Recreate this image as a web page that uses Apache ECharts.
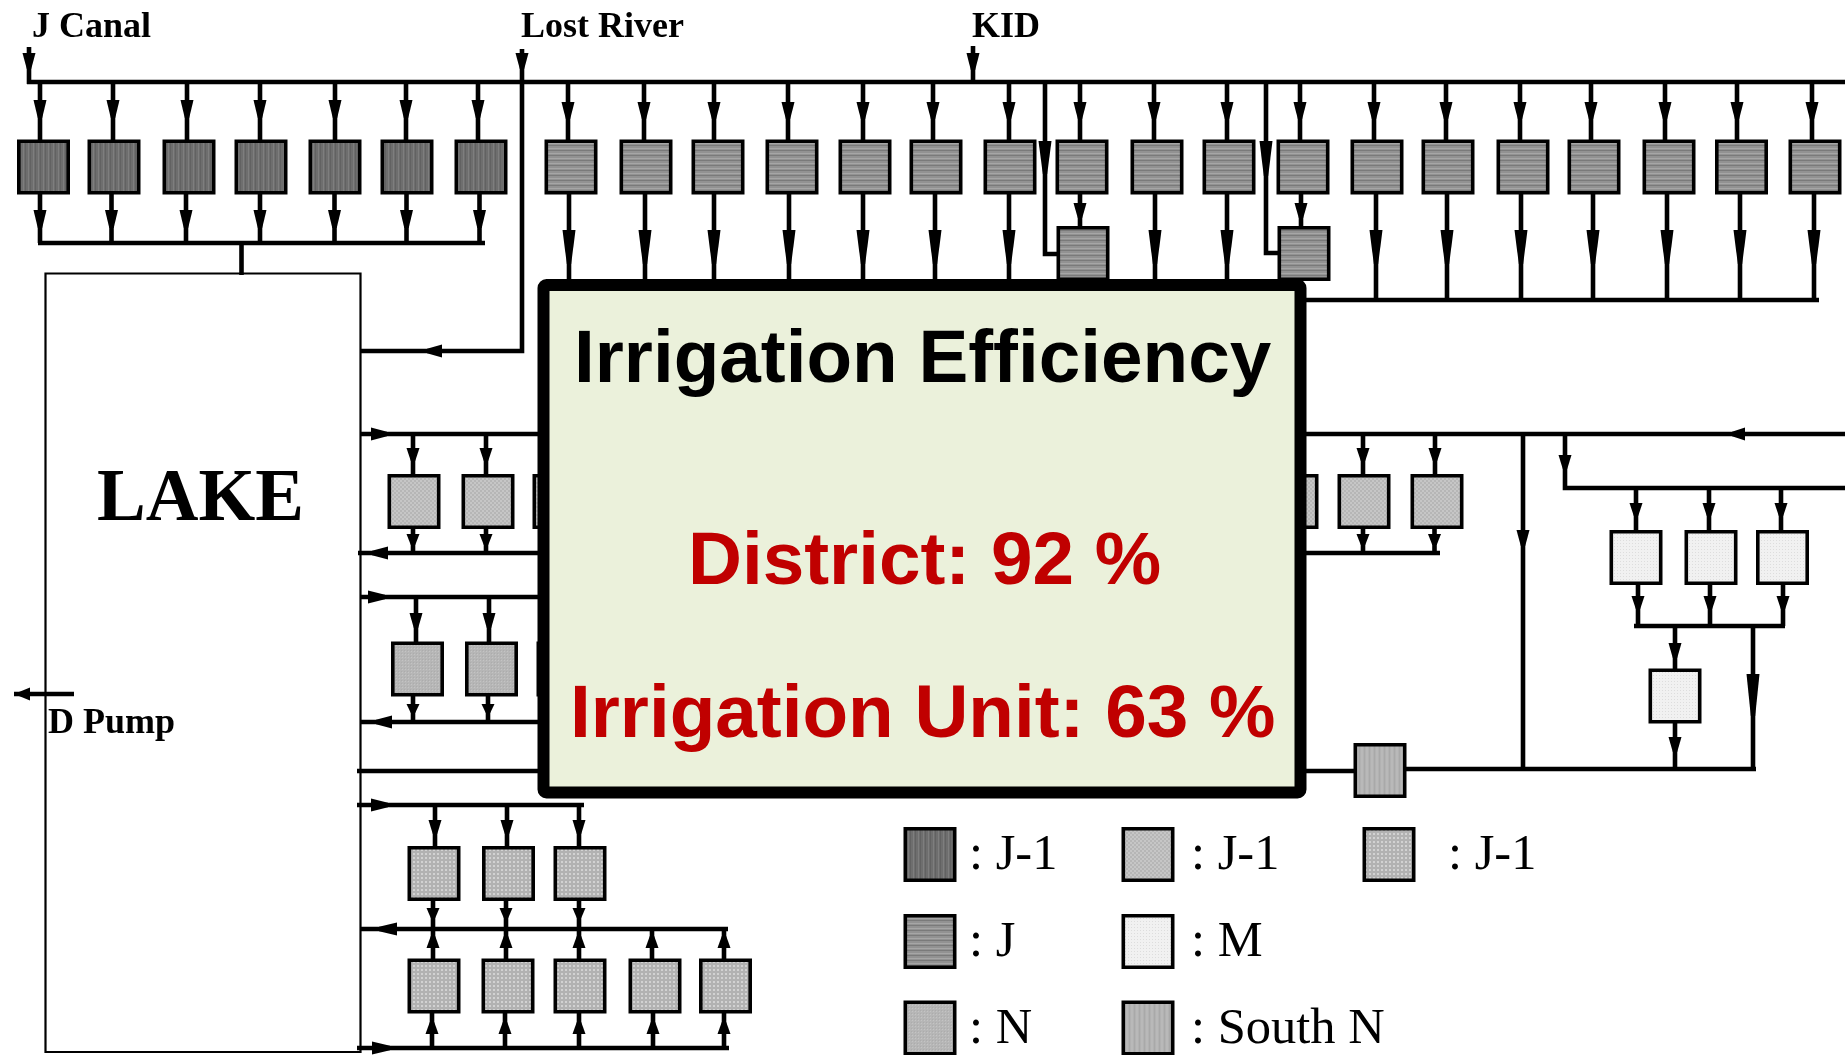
<!DOCTYPE html>
<html>
<head>
<meta charset="utf-8">
<title>Irrigation Efficiency</title>
<script src="https://cdn.jsdelivr.net/npm/echarts@6/dist/echarts.min.js"></script>
<style>
html, body { margin: 0; background: #fff; }
#chart { width: 1845px; height: 1055px; }
</style>
</head>
<body>
<div id="chart"></div>
<script>
// everything below is in reference pixels
const siteNames = ['J Canal', 'Lost River', 'KID', 'D Pump', 'LAKE'];
const panelTitle = 'Irrigation Efficiency';
const panelDistrict = 'District: 92 %';
const panelUnit = 'Irrigation Unit: 63 %';
const legendNames = [': J-1', ': J-1', ': J-1', ': J', ': M', ': N', ': South N'];

// box centres
const jOneBoxes = [43.5, 114, 189, 261, 335, 407, 481].map(x => [x, 167]);
const jBoxes = [571, 646, 718, 792, 865, 936, 1010, 1082, 1157, 1229, 1303, 1377, 1448, 1523, 1594, 1669, 1741.5, 1815].map(x => [x, 167])
    .concat([[1083, 253.5], [1304, 253.5]]);
const upperLakeBoxes = [414, 488, 559, 1292, 1364, 1437].map(x => [x, 501.5]);
const midLakeBoxes = [417.5, 491.5, 563].map(x => [x, 669]);
const lowerLakeBoxes = [[434, 873.5], [508.5, 873.5], [580, 873.5], [434, 986], [508, 986], [580, 986], [655, 986], [725.5, 986]];
const mBoxes = [[1636, 557.5], [1711, 557.5], [1782.5, 557.5], [1675, 696]];
const southBoxes = [[1380, 770.5]];

// legend swatches, same order as legendNames
const legendBoxes = [[930, 854.5], [1148, 854.5], [1389, 854.5], [930, 941.5], [1148, 941.5], [930, 1028], [1148, 1028]];

const mainPipes = [
    [[27, 82], [1845, 82]],
    [[29, 47], [29, 84]],
    [[522, 49], [522, 351], [361, 351]],
    [[973, 46], [973, 84]],
    [[38, 243], [485, 243]],
    [[241.5, 243], [241.5, 275]],
    [[1045, 82], [1045, 254], [1061, 254]],
    [[1266, 82], [1266, 253], [1282, 253]],
    [[1300, 300], [1819, 300]],
    [[361, 434], [1845, 434]],
    [[358, 553], [1440, 553]],
    [[361, 597], [538, 597]],
    [[361, 722], [538, 722]],
    [[357, 771], [1354, 771]],
    [[1406, 769], [1756, 769]],
    [[1523, 434], [1523, 769]],
    [[1565, 434], [1565, 488], [1845, 488]],
    [[1634, 626], [1785, 626]],
    [[1753, 626], [1753, 769]],
    [[1675, 626], [1675, 670]],
    [[1675, 723], [1675, 769]],
    [[357, 805], [584, 805]],
    [[361, 929], [728, 929]],
    [[357, 1048], [729, 1048]],
    [[14, 694], [74, 694]]
];

// feeder groups: x positions, pipe from y, pipe to y, wedge base y, wedge tip y
const feeders = [
    [[40, 113, 187, 260, 335, 406, 478], 82, 141, 100, 118],
    [[40, 111.5, 186, 260, 334.5, 406.5, 479.5], 193, 243, 210, 228],
    [[568, 644, 714, 788, 863, 933, 1009, 1080, 1154, 1227, 1300, 1374, 1446, 1520, 1591, 1665, 1737, 1812], 82, 141, 102, 119],
    [[569, 645, 714, 789, 863, 935, 1009, 1155, 1227, 1376, 1447, 1521, 1593, 1667, 1740, 1814], 193, 300, 230, 264],
    [[1080, 1301], 193, 228, 203, 218],
    [[413, 486, 1363, 1435], 434, 476, 448, 461],
    [[413, 486, 1363, 1434.5], 527, 553, 534, 545],
    [[416, 489], 597, 643, 613, 628],
    [[413, 488], 695, 722, 704, 713],
    [[435, 507, 579], 805, 848, 820, 834],
    [[433, 506, 579], 899, 929, 908, 918],
    [[433, 506, 579, 652, 724], 960, 929, 948, 936],
    [[432, 505, 579, 653, 724], 1048, 1012, 1034, 1022],
    [[1636, 1709, 1781], 488, 532, 503, 516],
    [[1638, 1710, 1783], 583, 626, 596, 609]
];

// loose wedges pointing down: x, base y, tip y
const downWedges = [
    [29, 53, 69], [522, 53, 69], [973, 53, 70],
    [1045, 141, 174], [1266, 141, 176],
    [1523, 530, 546], [1565, 455, 469],
    [1675, 643, 658], [1675, 737, 752], [1753, 674, 716]
];
// wedges along a horizontal pipe: y, base x, tip x
const sideWedges = [
    [351, 442, 427], [434, 371, 387], [434, 1745, 1732],
    [553, 388, 372], [597, 368, 385], [722, 392, 376],
    [805, 371, 388], [929, 397, 379], [1048, 372, 390]
];
const pumpWedge = [694, 30, 14];

function makePattern(size, base, marks) {
    const c = document.createElement('canvas');
    c.width = size[0];
    c.height = size[1];
    const g = c.getContext('2d');
    g.fillStyle = base;
    g.fillRect(0, 0, size[0], size[1]);
    marks.forEach(m => {
        g.fillStyle = m[0];
        g.fillRect(m[1], m[2], m[3], m[4]);
    });
    return { image: c, repeat: 'repeat' };
}

const fills = {
    jOne: makePattern([5, 4], '#6e6e6e', [['#626262', 0, 0, 1, 4], ['#7e7e7e', 3, 0, 1, 4]]),
    j: makePattern([4, 5], '#929292', [['#7a7a7a', 0, 0, 4, 1], ['#a6a6a6', 0, 3, 4, 1]]),
    check: makePattern([4, 4], '#b6b6b6', [['#c6c6c6', 0, 0, 2, 2], ['#c6c6c6', 2, 2, 2, 2]]),
    dots: makePattern([4, 4], '#b2b2b2', [['#d2d2d2', 1, 1, 2, 2]]),
    n: makePattern([3, 3], '#b6b6b6', [['#c4c4c4', 0, 0, 1, 1], ['#acacac', 2, 2, 1, 1]]),
    m: makePattern([3, 3], '#f1f1f1', [['#dddddd', 0, 0, 1, 1]]),
    south: makePattern([5, 4], '#b2b2b2', [['#b9b9b9', 1, 0, 2, 4], ['#a9a9a9', 4, 0, 1, 4]])
};

function pipeSeries(pipes, z) {
    return {
        type: 'custom',
        z: z,
        silent: true,
        data: pipes.map((p, i) => [i, 0]),
        renderItem: function (params, api) {
            return {
                type: 'polyline',
                shape: { points: pipes[params.dataIndex].map(p => api.coord(p)) },
                style: { stroke: '#000', lineWidth: 4.6, fill: null }
            };
        }
    };
}

function wedgeSeries(wedges, z) {
    return {
        type: 'custom',
        z: z,
        silent: true,
        data: wedges.map((w, i) => [i, 0]),
        renderItem: function (params, api) {
            return {
                type: 'polygon',
                shape: { points: wedges[params.dataIndex].map(p => api.coord(p)) },
                style: { fill: '#000' }
            };
        }
    };
}

function boxSeries(boxes, fill, z) {
    return {
        type: 'custom',
        z: z,
        silent: true,
        data: boxes.map((b, i) => [i, 0]),
        renderItem: function (params, api) {
            const b = boxes[params.dataIndex];
            const a = api.coord([b[0] - 24.7, b[1] - 25.7]);
            const d = api.coord([b[0] + 24.7, b[1] + 25.7]);
            return {
                type: 'rect',
                shape: { x: a[0], y: a[1], width: d[0] - a[0], height: d[1] - a[1] },
                style: { fill: fill, stroke: '#000', lineWidth: 3.6 }
            };
        }
    };
}

function frameSeries(corner, far, style, radius, z) {
    return {
        type: 'custom',
        z: z,
        silent: true,
        data: [[0, 0]],
        renderItem: function (params, api) {
            const a = api.coord(corner);
            const d = api.coord(far);
            return {
                type: 'rect',
                shape: { x: a[0], y: a[1], width: d[0] - a[0], height: d[1] - a[1], r: radius },
                style: style
            };
        }
    };
}

function textSeries(items, z) {
    return {
        type: 'custom',
        z: z,
        silent: true,
        data: items.map((t, i) => [i, 0]),
        renderItem: function (params, api) {
            const t = items[params.dataIndex];
            const p = api.coord([t[1], t[2]]);
            return {
                type: 'text',
                style: {
                    text: t[0], x: p[0], y: p[1], font: t[3], fill: t[4],
                    textAlign: 'left', textVerticalAlign: 'middle'
                }
            };
        }
    };
}

const allPipes = mainPipes.slice();
const allWedges = [];
// the wedge narrows down to the pipe width, so it reads as a long barb
function barbDown(x, base, tip) {
    allWedges.push([[x - 6.5, base], [x + 6.5, base], [x + 2.2, tip], [x - 2.2, tip]]);
}
function barbSide(y, base, tip) {
    allWedges.push([[base, y - 6.5], [base, y + 6.5], [tip, y + 2.2], [tip, y - 2.2]]);
}
feeders.forEach(f => {
    f[0].forEach(x => {
        allPipes.push([[x, f[1]], [x, f[2]]]);
        barbDown(x, f[3], f[4]);
    });
});
downWedges.forEach(w => barbDown(w[0], w[1], w[2]));
sideWedges.forEach(w => barbSide(w[0], w[1], w[2]));
allWedges.push([[pumpWedge[1], pumpWedge[0] - 6.5], [pumpWedge[1], pumpWedge[0] + 6.5], [pumpWedge[2], pumpWedge[0]]]);

const serifBold = 'bold 36px "Liberation Serif"';
const siteSpots = [[32, 27.5], [521, 27.5], [972, 27.5], [48, 723.5], [97, 501]];
const siteLabels = siteNames.map((n, i) => [n, siteSpots[i][0], siteSpots[i][1], i === 4 ? 'bold 73px "Liberation Serif"' : serifBold, '#000']);

const panelFont = 'bold 74.7px "Liberation Sans"';
const panelLabels = [
    [panelTitle, 574, 361.5, panelFont, '#000'],
    [panelDistrict, 688, 563.5, panelFont, '#c00000'],
    [panelUnit, 570, 716.5, panelFont, '#c00000']
];

const legendSpots = [[969, 855.5], [1191, 855.5], [1448, 855.5], [969, 942.5], [1191, 942.5], [969, 1029.5], [1191, 1029.5]];
const legendLabels = legendNames.map((n, i) => [n, legendSpots[i][0], legendSpots[i][1], '50.5px "Liberation Serif"', '#000']);

const option = {
    animation: false,
    grid: { left: 0, right: 0, top: 0, bottom: 0 },
    xAxis: { type: 'value', min: 0, max: 1845, show: false },
    yAxis: { type: 'value', min: 0, max: 1055, inverse: true, show: false },
    series: [
        frameSeries([45.5, 273.5], [360.5, 1052], { fill: '#fff', stroke: '#000', lineWidth: 2.2 }, 0, 1),
        pipeSeries(allPipes, 2),
        wedgeSeries(allWedges, 3),
        boxSeries(jOneBoxes, fills.jOne, 4),
        boxSeries(jBoxes, fills.j, 4),
        boxSeries(upperLakeBoxes, fills.check, 4),
        boxSeries(midLakeBoxes, fills.n, 4),
        boxSeries(lowerLakeBoxes, fills.dots, 4),
        boxSeries(mBoxes, fills.m, 4),
        boxSeries(southBoxes, fills.south, 4),
        boxSeries(legendBoxes.slice(0, 1), fills.jOne, 4),
        boxSeries(legendBoxes.slice(1, 2), fills.check, 4),
        boxSeries(legendBoxes.slice(2, 3), fills.dots, 4),
        boxSeries(legendBoxes.slice(3, 4), fills.j, 4),
        boxSeries(legendBoxes.slice(4, 5), fills.m, 4),
        boxSeries(legendBoxes.slice(5, 6), fills.n, 4),
        boxSeries(legendBoxes.slice(6, 7), fills.south, 4),
        frameSeries([543.5, 285], [1300.5, 792.5], { fill: '#ebf1db', stroke: '#000', lineWidth: 12 }, 3, 5),
        textSeries(siteLabels, 6),
        textSeries(panelLabels, 6),
        textSeries(legendLabels, 6)
    ]
};

const chart = echarts.init(document.getElementById('chart'));
chart.setOption(option);
window.onresize = () => {
    chart.resize();
};
</script>
</body>
</html>
